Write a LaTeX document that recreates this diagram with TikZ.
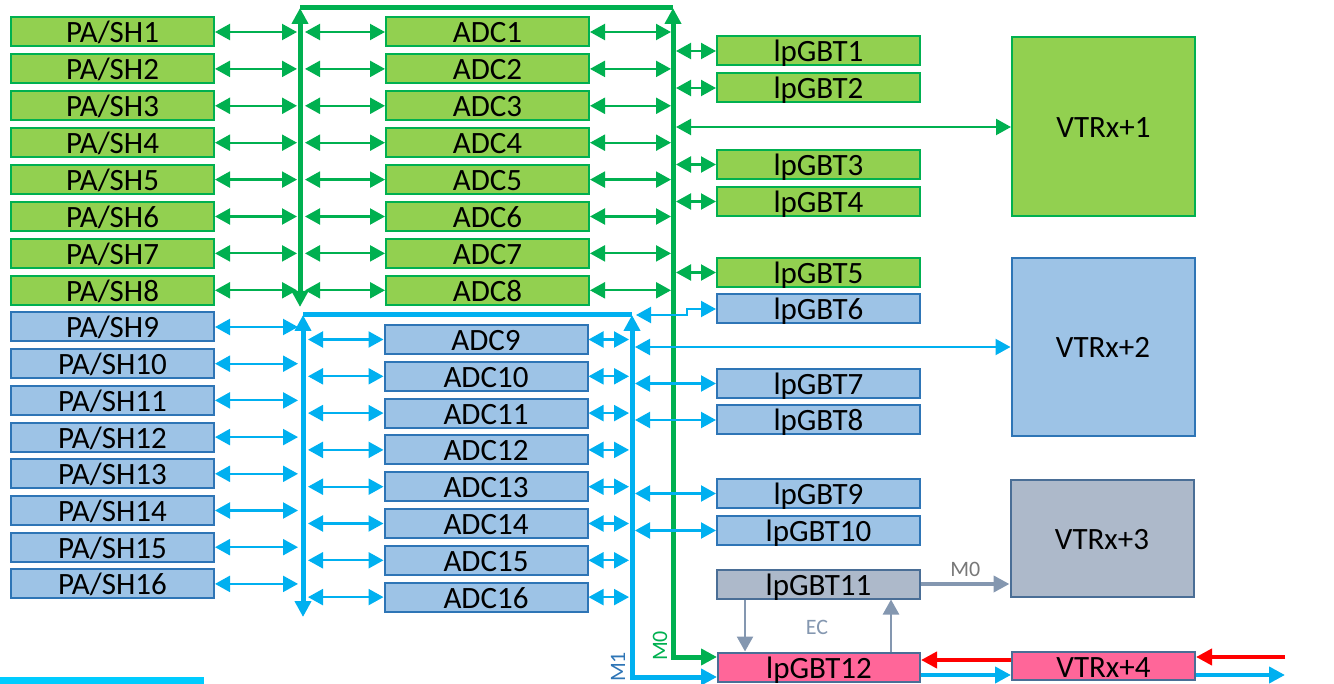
\documentclass[tikz,border=0pt]{standalone}
\usepackage{fontspec}
\setmainfont{Carlito}
\usetikzlibrary{arrows.meta,calc}
\definecolor{gfill}{RGB}{146,208,80}
\definecolor{gline}{RGB}{0,176,80}
\definecolor{bfill}{RGB}{157,195,230}
\definecolor{bline}{RGB}{46,117,182}
\definecolor{barrow}{RGB}{0,176,240}
\definecolor{grfill}{RGB}{173,185,202}
\definecolor{grline}{RGB}{74,110,150}
\definecolor{grarrow}{RGB}{132,151,176}
\definecolor{pinkfill}{RGB}{255,102,153}
\definecolor{cyanline}{RGB}{0,204,255}
\definecolor{labgray}{RGB}{120,120,120}
\tikzset{
  box/.style={draw, line width=2pt, minimum width=203pt, minimum height=29pt, inner sep=0pt,
    text height=25pt, text depth=3pt, font=\fontsize{31}{31}\selectfont},
  gbox/.style={box, draw=gline, fill=gfill},
  bbox/.style={box, draw=bline, fill=bfill},
  grbox/.style={box, draw=grline, fill=grfill},
  pbox/.style={box, draw=grline, fill=pinkfill},
  bigbox/.style={box, minimum width=183pt},
  thintip/.tip={Triangle[length=15pt,width=16pt]},
  bigtip/.tip={Triangle[length=16pt,width=16pt]},
  garr/.style={draw=gline, line width=2.2pt, thintip-thintip},
  barr/.style={draw=barrow, line width=2.2pt, thintip-thintip},
  gbus/.style={draw=gline, line width=5pt},
  bbus/.style={draw=barrow, line width=5pt},
  grarr/.style={draw=grarrow, line width=4.5pt, -bigtip},
  ecarr/.style={draw=grarrow, line width=2.5pt, -thintip},
  redarr/.style={draw=red, line width=4.5pt, -bigtip},
  cyarr/.style={draw=barrow, line width=4.5pt, -bigtip},
  smalllab/.style={font=\fontsize{22}{22}\selectfont, inner sep=0pt},
}
\begin{document}
\begin{tikzpicture}[x=1pt,y=-1pt]
\useasboundingbox (0,0) rectangle (1334,684);

% bus reference coordinates
\coordinate (gL) at (297,0);
\coordinate (gR1) at (305,0);
\coordinate (gM) at (671,0);
\coordinate (gM2) at (676,0);
\coordinate (bL) at (298,0);
\coordinate (bR1) at (308,0);
\coordinate (bM) at (629,0);
\coordinate (bM2) at (635,0);

% green rows
\foreach \i in {1,...,8} {
  \pgfmathsetmacro\yy{32+36.9*(\i-1)}
  \node[gbox] (pa\i) at (112.5,\yy) {PA/SH\i};
  \node[gbox] (adc\i) at (487.5,\yy) {ADC\i};
  \draw[garr] (pa\i.east) -- (pa\i.east -| gL);
  \draw[garr] (adc\i.west -| gR1) -- (adc\i.west);
  \draw[garr] (adc\i.east) -- (adc\i.east -| gM);
}
% blue rows
\foreach \i in {9,...,16} {
  \pgfmathsetmacro\ya{327+36.7*(\i-9)}
  \pgfmathsetmacro\yb{339.5+36.8*(\i-9)}
  \node[bbox] (pa\i) at (112.5,\ya) {PA/SH\i};
  \node[bbox] (adc\i) at (486,\yb) {ADC\i};
  \draw[barr] (pa\i.east) -- (pa\i.east -| bL);
  \draw[barr] (adc\i.west -| bR1) -- (adc\i.west);
  \draw[barr] (adc\i.east) -- (adc\i.east -| bM);
}

% lpGBTs
\node[gbox] (lp1) at (818.5,51) {lpGBT1};
\node[gbox] (lp2) at (818.5,88) {lpGBT2};
\node[gbox] (lp3) at (818.5,164.5) {lpGBT3};
\node[gbox] (lp4) at (818.5,201.5) {lpGBT4};
\node[gbox] (lp5) at (818.5,272.5) {lpGBT5};
\node[bbox] (lp6) at (818.5,309) {lpGBT6};
\node[bbox] (lp7) at (818.5,383.5) {lpGBT7};
\node[bbox] (lp8) at (818.5,420) {lpGBT8};
\node[bbox] (lp9) at (818.5,493.5) {lpGBT9};
\node[bbox] (lp10) at (818.5,530.5) {lpGBT10};
\node[grbox] (lp11) at (818.5,584) {lpGBT11};
\node[pbox, minimum width=202pt] (lp12) at (819,667) {lpGBT12};

% VTRx
\node[bigbox, draw=gline, fill=gfill, minimum height=179pt] (vt1) at (1103.5,126.5) {VTRx+1};
\node[bigbox, draw=bline, fill=bfill, minimum height=178pt] (vt2) at (1103,347) {VTRx+2};
\node[bigbox, draw=grline, fill=grfill, minimum height=117pt] (vt3) at (1102,538.5) {VTRx+3};
\node[bigbox, draw=grline, fill=pinkfill, minimum height=28pt] (vt4) at (1103.5,666) {VTRx+4};

% green bus
\coordinate (gTL) at (300,8);
\coordinate (gTR) at (673,8);
\coordinate (gBot) at (300,307);
\coordinate (gEnd) at (673,657);
\draw[gbus, bigtip-bigtip] (gBot) -- (gTL);
\draw[gbus] (gTL) -- (gTR);
\draw[gbus, bigtip-bigtip] (gTR) -- (gEnd) -- (gEnd -| lp12.west);

% blue bus
\coordinate (bTL) at (303,315);
\coordinate (bTR) at (632,315);
\coordinate (bBot) at (303,617);
\coordinate (bEnd) at (632,677);
\draw[bbus, bigtip-bigtip] (bBot) -- (bTL);
\draw[bbus] (bTL) -- (bTR);
\draw[bbus, bigtip-bigtip] (bTR) -- (bEnd) -- (bEnd -| lp12.west);

% green bus to lpGBT / VTRx+1
\foreach \i in {1,...,5} {
  \draw[garr] (lp\i.west -| gM2) -- (lp\i.west);
}
\coordinate (v1a) at (676,127);
\draw[garr] (v1a) -- (v1a -| vt1.west);

% blue bus to lpGBT / VTRx+2
\coordinate (j6) at (636,315);
\draw[barr] (j6) -- ++(51,0) |- (lp6.west);
\foreach \i in {7,...,10} {
  \draw[barr] (lp\i.west -| bM2) -- (lp\i.west);
}
\coordinate (v2a) at (635,347);
\draw[barr] (v2a) -- (v2a -| vt2.west);

% lpGBT11 / VTRx+3
\draw[grarr] (lp11.east) -- (lp11.east -| vt3.west)
  node[midway, above=5pt, smalllab, text=labgray] {M0};

% EC links
\coordinate (ecA) at (745,0);
\coordinate (ecB) at (891,0);
\draw[ecarr] (lp11.south -| ecA) -- (lp12.north -| ecA);
\draw[ecarr] (lp12.north -| ecB) -- (lp11.south -| ecB);
\node[smalllab, text=grarrow] (ec) at (817,627) {EC};

% lpGBT12 / VTRx+4
\coordinate (r1) at (0,660);
\coordinate (r2) at (1285,657);
\coordinate (c1) at (0,675);
\coordinate (c2) at (1285,675);
\draw[redarr] (vt4.west |- r1) -- (lp12.east |- r1);
\draw[redarr] (r2) -- (r2 -| vt4.east);
\draw[cyarr] (lp12.east |- c1) -- (vt4.west |- c1);
\draw[cyarr] (vt4.east |- c2) -- (c2);

% bus labels
\node[smalllab, text=gline, rotate=90] (m0) at (660,646) {M0};
\node[smalllab, text=bline, rotate=90] (m1) at (618,667) {M1};

% bottom-left line
\fill[cyanline] (0,677) rectangle (204,684);
\end{tikzpicture}
\end{document}
